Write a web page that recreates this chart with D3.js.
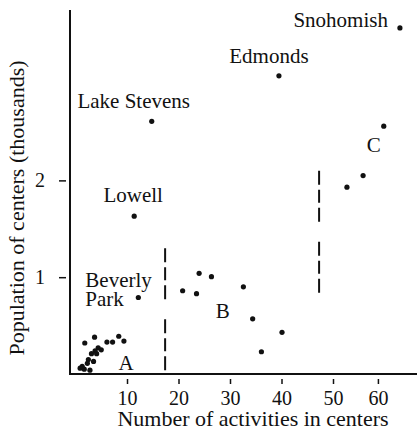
<!DOCTYPE html>
<html>
<head>
<meta charset="utf-8">
<script src="https://cdn.jsdelivr.net/npm/d3@7"></script>
<style>
  body { margin: 0; background: #fff; }
  svg { display: block; }
  text { font-family: "Liberation Serif", "Times New Roman", serif; fill: #111; }
</style>
</head>
<body>
<svg width="417" height="438"></svg>
<script>
(function() {
    // named centers (activities, population in thousands)
    const towns     = ['Snohomish', 'Edmonds', 'Lake Stevens', 'Lowell', 'Beverly Park']
    const townActs  = [64.9, 39.5, 14.8, 11.4, 12.2]
    const townPops  = [3.575, 3.08, 2.61, 1.63, 0.79]

    // unnamed centers, group A
    const aActs = [1.8, 3.7, 6.1, 7.2, 8.4, 9.4, 4.4, 3.8, 5.0, 3.1, 4.1, 2.5, 3.5, 2.3, 0.9, 1.7, 2.8, 1.3]
    const aPops = [0.32, 0.38, 0.33, 0.33, 0.39, 0.34, 0.27, 0.24, 0.25, 0.21, 0.21, 0.15, 0.13, 0.11, 0.06, 0.05, 0.04, 0.08]

    // group B
    const bActs = [20.8, 23.5, 24.0, 26.4, 32.6, 34.4, 36.1, 40.1]
    const bPops = [0.86, 0.83, 1.04, 1.005, 0.90, 0.57, 0.23, 0.43]

    // group C
    const cActs = [53.1, 56.7, 61.3]
    const cPops = [1.93, 2.05, 2.56]

    const groupNames = ['A', 'B', 'C']
    const groupActs  = [9.8, 28.6, 59.1]
    const groupPops  = [0.04, 0.58, 2.29]

    // dashed class boundaries
    const breakActs = [17.4, 47.3]
    const breakLow  = [0.04, 0.84]
    const breakHigh = [1.30, 2.10]

    const xTicks = [10, 20, 30, 40, 50, 60]
    const yTicks = [1, 2]

    const svg = d3.select('svg')

    // the original axis squeezes the last decade a little
    const x = d3.scaleLinear().domain([-1.07, 50, 68.7]).range([70, 333, 417])
    const y = d3.scaleLinear().domain([0, 3.76]).range([374, 10])

    const FONT = 21

    // axes lines
    svg.append('line')
        .attr('x1', x(-1.07)).attr('x2', x(-1.07))
        .attr('y1', y(3.76)).attr('y2', y(0))
        .attr('stroke', '#111').attr('stroke-width', 2)
    svg.append('line')
        .attr('x1', x(-1.07) - 1).attr('x2', x(68.7))
        .attr('y1', y(0)).attr('y2', y(0))
        .attr('stroke', '#111').attr('stroke-width', 2)

    const xAxis = svg.append('g')
        .attr('transform', `translate(0, ${y(0)})`)
        .call(d3.axisBottom(x).tickValues(xTicks).tickSize(0).tickPadding(17).tickFormat(d3.format('d')))
    xAxis.select('.domain').remove()
    xAxis.selectAll('.tick line')
        .attr('y1', 5).attr('y2', 10)
        .attr('stroke', '#111').attr('stroke-width', 1.5)
    xAxis.selectAll('.tick text')
        .attr('font-size', 20)
        .attr('font-family', '"Liberation Serif", serif')
        .attr('fill', '#111')

    const yAxis = svg.append('g')
        .attr('transform', `translate(${x(-1.07)}, 0)`)
        .call(d3.axisLeft(y).tickValues(yTicks).tickSize(0).tickPadding(22).tickFormat(d3.format('d')))
    yAxis.select('.domain').remove()
    yAxis.selectAll('.tick line')
        .attr('x1', -4).attr('x2', -11)
        .attr('stroke', '#111').attr('stroke-width', 1.5)
    yAxis.selectAll('.tick text')
        .attr('font-size', 20)
        .attr('font-family', '"Liberation Serif", serif')
        .attr('fill', '#111')
        .attr('text-anchor', 'middle')
        .attr('x', -30)

    // titles
    svg.append('text')
        .attr('x', 253).attr('y', 426)
        .attr('text-anchor', 'middle')
        .attr('font-size', 22)
        .text('Number of activities in centers')

    svg.append('text')
        .attr('transform', 'translate(24, 208) rotate(-90)')
        .attr('text-anchor', 'middle')
        .attr('font-size', 22)
        .text('Population of centers (thousands)')

    // dashed boundaries
    svg.append('g')
        .selectAll('line')
        .data(breakActs)
        .enter()
        .append('line')
        .attr('x1', d => x(d)).attr('x2', d => x(d))
        .attr('y1', (d, i) => y(breakHigh[i]))
        .attr('y2', (d, i) => y(breakLow[i]))
        .attr('stroke', '#111')
        .attr('stroke-width', 2)
        .attr('stroke-dasharray', '14,5,13,5,14,20')

    // points
    const pts = []
    aActs.forEach((v, i) => pts.push([v, aPops[i]]))
    bActs.forEach((v, i) => pts.push([v, bPops[i]]))
    cActs.forEach((v, i) => pts.push([v, cPops[i]]))
    townActs.forEach((v, i) => pts.push([v, townPops[i]]))

    svg.append('g')
        .selectAll('circle')
        .data(pts)
        .enter()
        .append('circle')
        .attr('cx', d => x(d[0]))
        .attr('cy', d => y(d[1]))
        .attr('r', 2.6)
        .attr('fill', '#111')

    // town labels, offset from their dot
    const labelOffset = {
        'Snohomish':    { dx: -12, dy: -1,  anchor: 'end' },
        'Edmonds':      { dx: -10, dy: -13, anchor: 'middle' },
        'Lake Stevens': { dx: -18, dy: -13, anchor: 'middle' },
        'Lowell':       { dx: -1,  dy: -14, anchor: 'middle' },
        'Beverly Park': { dx: -53, dy: -11, anchor: 'start' }
    }

    const tl = svg.append('g')
        .selectAll('text')
        .data(towns)
        .enter()
        .append('text')
        .attr('font-size', FONT)
        .attr('text-anchor', d => labelOffset[d].anchor)
        .attr('x', (d, i) => x(townActs[i]) + labelOffset[d].dx)
        .attr('y', (d, i) => y(townPops[i]) + labelOffset[d].dy)

    tl.each(function(d) {
        const t = d3.select(this)
        if (d === 'Beverly Park') {
            const x0 = t.attr('x')
            t.append('tspan').attr('x', x0).text('Beverly')
            t.append('tspan').attr('x', x0).attr('dy', 19).text('Park')
        } else {
            t.text(d)
        }
    })

    svg.append('g')
        .selectAll('text')
        .data(groupNames)
        .enter()
        .append('text')
        .attr('font-size', FONT)
        .attr('text-anchor', 'middle')
        .attr('x', (d, i) => x(groupActs[i]))
        .attr('y', (d, i) => y(groupPops[i]))
        .text(d => d)
})()
</script>
</body>
</html>
